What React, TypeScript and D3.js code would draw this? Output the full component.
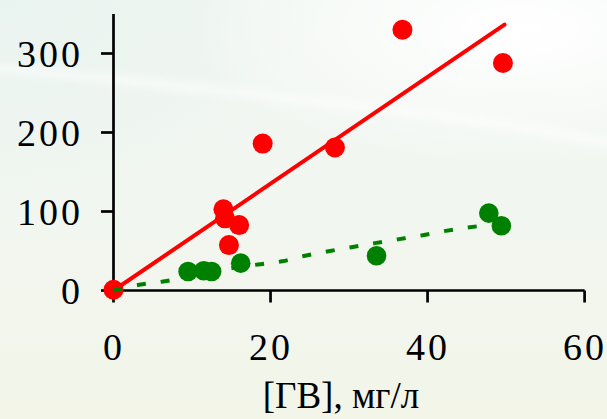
import React from 'react';
import * as d3 from 'd3';

// ---- data ----
const xTicks = [0, 20, 40, 60];
const yTicks = [0, 100, 200, 300];

const redX = [0, 14.0, 14.2, 16.0, 14.7, 19.0, 28.2, 36.8, 49.6];
const redY = [1, 102.7, 91.3, 82.8, 57.5, 186, 181, 330, 288];

const greenX = [9.5, 11.5, 12.5, 16.2, 33.5, 47.8, 49.4];
const greenY = [24, 25, 24, 34.6, 44, 98, 82];

// red linear fit: y = slope * x, from 0 to xEnd
const redFitSlope = 6.76;
const redFitX = [0, 49.8];

// green dashed trend line points
const greenFitX = [0, 3.3, 6.35, 15.3, 18.4, 21.5, 24.4, 27.2, 30.3, 33.3, 36.4, 39.4, 42.3, 46.5];
const greenFitY = [0, 7.2, 11.4, 28.7, 32.9, 37, 44, 49.4, 54.8, 60, 65, 70, 75.5, 81.5];

const xTitle = '[ГВ], мг/л';

export default function App() {
  const W = 607;
  const H = 419;
  const x = d3.scaleLinear().domain([0, 60]).range([113.5, 584.6]);
  const y = d3.scaleLinear().domain([0, 350]).range([290.5, 14]);

  const line = d3
    .line<[number, number]>()
    .x((d) => x(d[0]))
    .y((d) => y(d[1]));

  const redLinePts: [number, number][] = redFitX.map((v) => [v, v * redFitSlope]);
  const greenLinePts: [number, number][] = greenFitX.map((v, i) => [v, greenFitY[i]]);

  const font = '"Liberation Serif", "Times New Roman", serif';
  const y0 = y(0);
  const x0 = x(0);

  return (
    <svg
      width={W}
      height={H}
      style={{ position: 'fixed', left: 0, top: 0, display: 'block' }}
    >
      <defs>
        <linearGradient id="bgv" x1="0" y1="0" x2="0" y2="1">
          <stop offset="0" stopColor="#f1f7f3" />
          <stop offset="0.5" stopColor="#f1f6f0" />
          <stop offset="1" stopColor="#f2f5e8" />
        </linearGradient>
        <radialGradient id="tl" cx="0" cy="0" r="1" gradientUnits="userSpaceOnUse"
          gradientTransform="translate(0,0) scale(320,220)">
          <stop offset="0" stopColor="#e9f3ef" stopOpacity="1" />
          <stop offset="1" stopColor="#e9f3ef" stopOpacity="0" />
        </radialGradient>
        <radialGradient id="tr" cx="0" cy="0" r="1" gradientUnits="userSpaceOnUse"
          gradientTransform="translate(520,30) scale(330,140)">
          <stop offset="0" stopColor="#ffffff" stopOpacity="1" />
          <stop offset="1" stopColor="#ffffff" stopOpacity="0" />
        </radialGradient>
        <filter id="blur" x="-10%" y="-50%" width="120%" height="200%">
          <feGaussianBlur stdDeviation="4" />
        </filter>
      </defs>

      {/* background */}
      <rect x={0} y={0} width={W} height={H} fill="url(#bgv)" />
      <rect x={0} y={0} width={W} height={H} fill="url(#tl)" />
      <rect x={0} y={0} width={W} height={H} fill="url(#tr)" />
      <path
        d="M -10 68 C 120 78, 250 95, 360 106 S 540 130, 620 145"
        stroke="#ffffff"
        strokeWidth={7}
        fill="none"
        opacity={0.7}
        filter="url(#blur)"
      />

      {/* axes */}
      <g stroke="#000" strokeWidth={2.7} fill="none">
        <line x1={x0} y1={y0} x2={x(60)} y2={y0} />
        <line x1={x0} y1={y0} x2={x0} y2={y(350)} />
        {xTicks.map((t) => (
          <line key={'xt' + t} x1={x(t)} x2={x(t)} y1={y0} y2={y0 + 12} />
        ))}
        {yTicks.map((t) => (
          <line key={'yt' + t} x1={x0 - 12.5} x2={x0} y1={y(t)} y2={y(t)} />
        ))}
      </g>

      {/* tick labels */}
      <g fontFamily={font} fontSize={38} fill="#000">
        {xTicks.map((t) => (
          <text
            key={'xl' + t}
            x={x(t) + 0.5}
            y={360}
            textAnchor="middle"
            style={{ letterSpacing: '3px' }}
          >
            {t}
          </text>
        ))}
        {yTicks.map((t) => (
          <text
            key={'yl' + t}
            x={83}
            y={y(t) + 13}
            textAnchor="end"
            style={{ letterSpacing: '3px' }}
          >
            {t}
          </text>
        ))}
        <text x={341} y={408} textAnchor="middle" fontSize={37}>
          {xTitle}
        </text>
      </g>

      {/* data points */}
      {redX.map((v, i) => (
        <circle key={'r' + i} cx={x(v)} cy={y(redY[i])} r={10} fill="#ff0000" />
      ))}
      {greenX.map((v, i) => (
        <circle key={'g' + i} cx={x(v)} cy={y(greenY[i])} r={9.8} fill="#008000" />
      ))}

      {/* fit lines */}
      <path d={line(redLinePts) || ''} stroke="#ff0000" strokeWidth={4} fill="none" strokeLinecap="round" />
      <path
        d={d3.line<[number, number]>().x((d) => x(d[0])).y((d) => y(d[1])).curve(d3.curveMonotoneX)(greenLinePts) || ''}
        stroke="#008000"
        strokeWidth={4}
        fill="none"
        strokeDasharray="9 15"
      />
    </svg>
  );
}
